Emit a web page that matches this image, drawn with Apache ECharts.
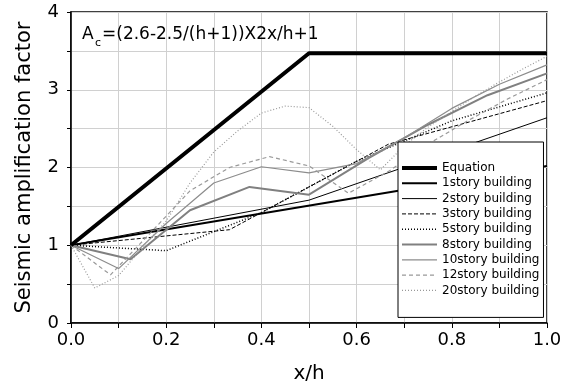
<!DOCTYPE html>
<html>
<head>
<meta charset="utf-8">
<script src="https://cdn.jsdelivr.net/npm/echarts@6/dist/echarts.min.js"></script>
<style>html,body{margin:0;padding:0;background:#fff}#c{width:574px;height:390px}</style>
</head>
<body>
<div id="c"></div>
<script>
// ---- data ----
var seriesNames = ['Equation','1story building','2story building','3story building','5story building','8story building','10story building','12story building','20story building'];
var xEq   = [0, 0.5, 1];
var yEq   = [1, 3.47, 3.47];
var x1    = [0, 1];
var y1    = [1, 2.02];
var x2    = [0, 0.5, 1];
var y2    = [1, 1.58, 2.64];
var x3    = [0, 0.333, 0.667, 1];
var y3    = [1, 1.2, 2.3, 2.86];
var x5    = [0, 0.2, 0.4, 0.6, 0.8, 1];
var y5    = [1, 0.93, 1.42, 2.08, 2.6, 2.96];
var x8    = [0, 0.125, 0.25, 0.375, 0.5, 0.625, 0.75, 0.875, 1];
var y8    = [1, 0.82, 1.45, 1.75, 1.65, 2.12, 2.55, 2.93, 3.21];
var x10   = [0, 0.1, 0.2, 0.3, 0.4, 0.5, 0.6, 0.7, 0.8, 0.9, 1];
var y10   = [1, 0.70, 1.28, 1.80, 2.01, 1.93, 2.05, 2.38, 2.76, 3.07, 3.32];
var x12   = [0, 0.083, 0.167, 0.25, 0.333, 0.417, 0.5, 0.583, 0.667, 0.75, 0.833, 0.917, 1];
var y12   = [1, 0.62, 1.16, 1.70, 2.0, 2.14, 2.02, 1.67, 1.95, 2.3, 2.6, 2.88, 3.13];
var x20   = [0, 0.05, 0.1, 0.15, 0.2, 0.25, 0.3, 0.35, 0.4, 0.45, 0.5, 0.55, 0.6, 0.65, 0.7, 0.75, 0.8, 0.85, 0.9, 0.95, 1];
var y20   = [1, 0.45, 0.61, 0.97, 1.31, 1.8, 2.2, 2.47, 2.7, 2.79, 2.77, 2.53, 2.23, 1.97, 2.28, 2.52, 2.72, 2.92, 3.1, 3.27, 3.43];
var xTickFmt = function (v) { return v.toFixed(1); };
var annotation = '=(2.6-2.5/(h+1))X2x/h+1';

function zip(xs, ys) { return xs.map(function (x, i) { return [x, ys[i]]; }); }

var FONT = 'DejaVu Sans';
var styles = [
  {color:'#000', width:4,   type:'solid'},
  {color:'#000', width:2,   type:'solid'},
  {color:'#000', width:1,   type:'solid'},
  {color:'#000', width:1,   type:[4,2]},
  {color:'#000', width:1.5, type:[1,2]},
  {color:'#808080', width:2, type:'solid'},
  {color:'#8c8c8c', width:1.2, type:'solid'},
  {color:'#999', width:1.2, type:[4,3]},
  {color:'#999', width:1.2, type:[1,2]}
];
var dataSets = [zip(xEq,yEq), zip(x1,y1), zip(x2,y2), zip(x3,y3), zip(x5,y5), zip(x8,y8), zip(x10,y10), zip(x12,y12), zip(x20,y20)];

var series = seriesNames.map(function (n, i) {
  return {
    name: n, type: 'line', data: dataSets[i], symbol: 'none', showSymbol: false,
    z: i === 0 ? 3 : 2, animation: false,
    lineStyle: {color: styles[i].color, width: styles[i].width, type: styles[i].type},
    itemStyle: {color: styles[i].color}
  };
});

var legendData = seriesNames.map(function (n, i) {
  return {name: n, lineStyle: {color: styles[i].color, width: styles[i].width, type: styles[i].type}};
});

var chart = echarts.init(document.getElementById('c'));
chart.setOption({
  animation: false,
  backgroundColor: '#fff',
  grid: {left: 71, right: 27, top: 12, bottom: 67, show: true, borderColor: '#000', borderWidth: 1.5, backgroundColor: 'transparent'},
  xAxis: {
    type: 'value', min: 0, max: 1, interval: 0.2,
    axisLine: {show: true, onZero: false, lineStyle: {color: '#000', width: 1.5}},
    axisTick: {show: true, inside: false, length: 5, lineStyle: {color: '#000'}},
    minorTick: {show: true, splitNumber: 2, length: 5, lineStyle: {color: '#000'}},
    splitLine: {show: true, lineStyle: {color: '#d0d0d0', width: 1}},
    minorSplitLine: {show: true, lineStyle: {color: '#d0d0d0', width: 1}},
    axisLabel: {fontFamily: FONT, fontSize: 18, color: '#000', margin: 8, formatter: xTickFmt},
    name: 'x/h', nameLocation: 'middle', nameGap: 41,
    nameTextStyle: {fontFamily: FONT, fontSize: 20, color: '#000'}
  },
  yAxis: {
    type: 'value', min: 0, max: 4, interval: 1,
    axisLine: {show: true, onZero: false, lineStyle: {color: '#000', width: 1.5}},
    axisTick: {show: true, inside: false, length: 4, lineStyle: {color: '#000'}},
    minorTick: {show: true, splitNumber: 2, length: 4, lineStyle: {color: '#000'}},
    splitLine: {show: true, lineStyle: {color: '#d0d0d0', width: 1}},
    minorSplitLine: {show: true, lineStyle: {color: '#d0d0d0', width: 1}},
    axisLabel: {fontFamily: FONT, fontSize: 18, color: '#000', margin: 12},
    name: 'Seismic amplification factor', nameLocation: 'middle', nameGap: 36,
    nameTextStyle: {fontFamily: FONT, fontSize: 21, color: '#000'}
  },
  legend: {
    data: legendData, orient: 'vertical', left: 398, top: 142,
    padding: [19, 4, 20, 2], itemGap: 1.3, itemWidth: 35, itemHeight: 10,
    backgroundColor: '#fff', borderColor: '#000', borderWidth: 1, borderRadius: 0,
    selectedMode: false,
    itemStyle: {opacity: 0, borderWidth: 0},
    textStyle: {fontFamily: FONT, fontSize: 12, color: '#000', lineHeight: 14}
  },
  graphic: [
    {type: 'text', left: 82, top: 26, z: 10, style: {text: 'A', font: '17px "DejaVu Sans"', fill: '#000'}},
    {type: 'text', left: 95, top: 38, z: 10, style: {text: 'c', font: '11px "DejaVu Sans"', fill: '#000'}},
    {type: 'text', left: 102, top: 26, z: 10, style: {text: annotation, font: '17px "DejaVu Sans"', fill: '#000'}}
  ],
  series: series
});
</script>
</body>
</html>
